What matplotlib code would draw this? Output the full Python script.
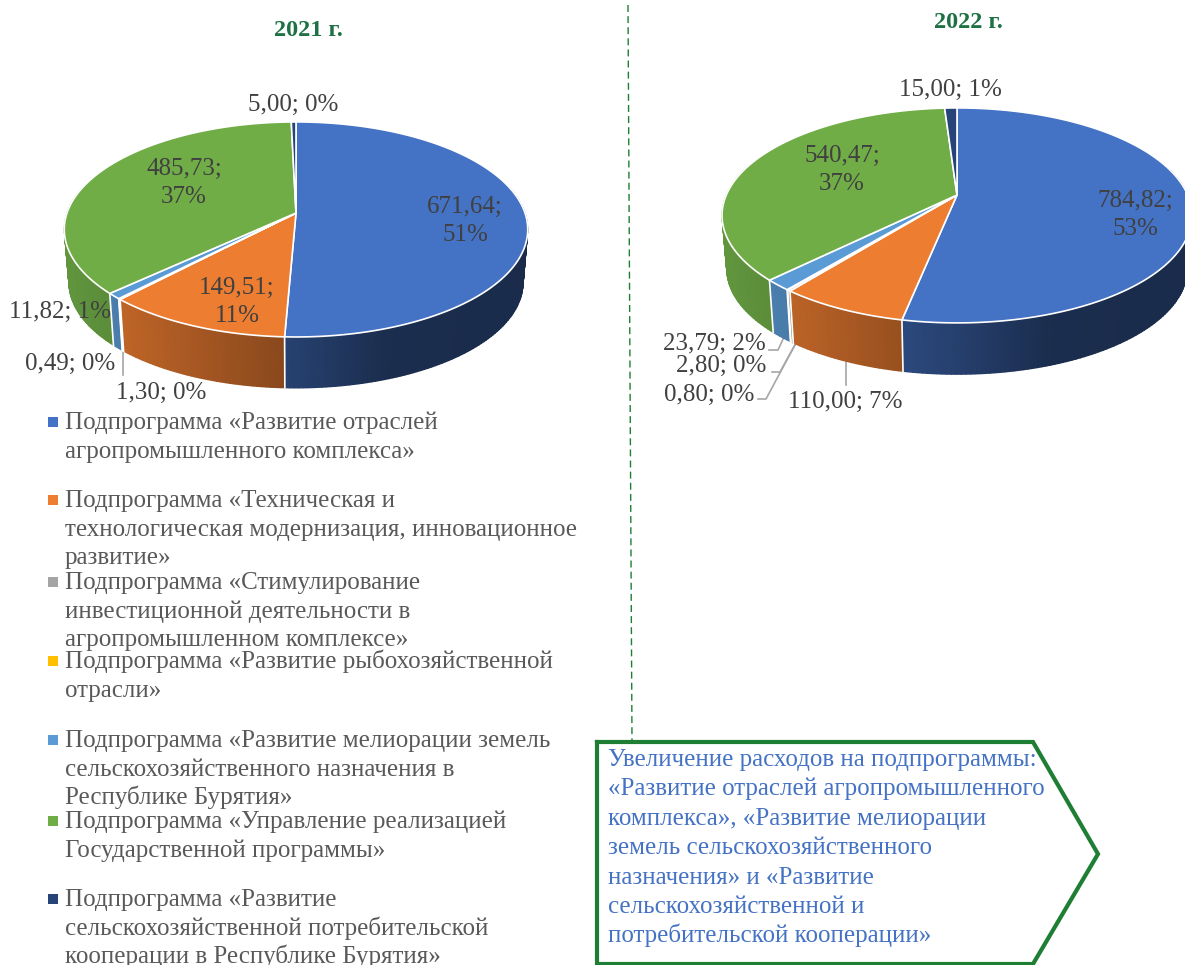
import numpy as np
import matplotlib.pyplot as plt
from matplotlib.colors import to_rgb

plt.rcParams['font.family'] = ['Liberation Serif', 'DejaVu Serif']

colors = ['#4472C4', '#ED7D31', '#A5A5A5', '#FFC000', '#5B9BD5', '#70AD47', '#264478']

values_2021 = [671.64, 149.51, 1.30, 0.49, 11.82, 485.73, 5.00]
values_2022 = [784.82, 110.00, 2.80, 0.80, 23.79, 540.47, 15.00]

labels_2021 = ['671,64;\n51%', '149,51;\n11%', '1,30; 0%', '0,49; 0%', '11,82; 1%', '485,73;\n37%', '5,00; 0%']
labels_2022 = ['784,82;\n53%', '110,00; 7%', '2,80; 0%', '0,80; 0%', '23,79; 2%', '540,47;\n37%', '15,00; 1%']

label_pos_2021 = [(465, 221), (237, 302), (161, 393), (70, 364), (60, 312), (184, 183), (293, 105)]
label_pos_2022 = [(1135, 215), (845, 402), (721, 366), (709, 395), (714, 344), (842, 170), (950, 90)]

legend_entries = [
    ['Подпрограмма «Развитие отраслей', 'агропромышленного комплекса»'],
    ['Подпрограмма «Техническая и', 'технологическая модернизация, инновационное', 'развитие»'],
    ['Подпрограмма «Стимулирование', 'инвестиционной деятельности в', 'агропромышленном комплексе»'],
    ['Подпрограмма «Развитие рыбохозяйственной', 'отрасли»'],
    ['Подпрограмма «Развитие мелиорации земель', 'сельскохозяйственного назначения в', 'Республике Бурятия»'],
    ['Подпрограмма «Управление реализацией', 'Государственной программы»'],
    ['Подпрограмма «Развитие', 'сельскохозяйственной потребительской', 'кооперации в Республике Бурятия»'],
]
legend_y = [429, 507, 589, 668, 747, 828, 906]

box_lines = [
    'Увеличение расходов на подпрограммы:',
    '«Развитие отраслей агропромышленного',
    'комплекса», «Развитие мелиорации',
    'земель сельскохозяйственного',
    'назначения» и «Развитие',
    'сельскохозяйственной и',
    'потребительской кооперации»',
]


def wall_shade(x):
    return np.interp(x, [-1, -0.75, -0.05, 0.4, 1], [0.86, 0.8, 0.58, 0.4, 0.38])


def project(theta, cx, cy, rx, ry, k, scale=1.0, drop=0.0):
    # theta clockwise from the top of the pie, perspective squeezes the far side
    xx = np.sin(theta)
    yy = np.cos(theta)
    ss = 1 / (1 + k * yy)
    return cx + rx * xx * ss * scale, cy - ry * yy * ss * scale + drop


def draw_pie(ax, values, cx, cy, rx, ry, k, drop):
    edges = np.concatenate([[0], np.cumsum(values)]) / np.sum(values) * 2 * np.pi
    sc = 0.98

    # side wall first, gouraud keeps the shading free of seams
    for ii, color in enumerate(colors):
        start, end = max(edges[ii], np.radians(75)), min(edges[ii + 1], np.radians(285))
        if end <= start:
            continue
        thetas = np.linspace(start, end, max(2, int(np.degrees(end - start))) + 1)
        xt, yt = project(thetas, cx, cy, rx, ry, k)
        xb, yb = project(thetas, cx, cy, rx, ry, k, sc, drop)
        shade = wall_shade((xt - cx) / rx)[:, None] * np.array(to_rgb(color))
        ax.pcolormesh(np.array([xt, xb]), np.array([yt, yb]), np.array([shade, shade]),
                      shading='gouraud', zorder=2)

    for edge in edges[:-1]:
        if np.cos(edge) < 0:
            xt, yt = project(edge, cx, cy, rx, ry, k)
            xb, yb = project(edge, cx, cy, rx, ry, k, sc, drop)
            ax.plot([xt, xb], [yt, yb], color='white', lw=1.2, zorder=3)

    # top face
    for ii, color in enumerate(colors):
        thetas = np.linspace(edges[ii], edges[ii + 1], 200)
        xs, ys = project(thetas, cx, cy, rx, ry, k)
        ax.fill(np.r_[cx, xs], np.r_[cy, ys], facecolor=color, edgecolor='white', lw=1.2,
                joinstyle='round', zorder=4)


fig = plt.figure(figsize=(11.85, 9.65), dpi=100)
ax = fig.add_axes([0, 0, 1, 1])

draw_pie(ax, values_2021, 296, 213, 229, 105, 0.153, 53.5)
draw_pie(ax, values_2022, 957, 195, 230.7, 103.6, 0.19, 54)

# leader lines
leader = '#A6A6A6'
ax.plot([123, 123], [352, 375], color=leader, lw=1.2, zorder=1)
ax.plot([846, 846], [362, 385], color=leader, lw=1.2, zorder=1)
ax.plot([769, 778, 784], [350, 350, 337], color=leader, lw=1.2, zorder=1)
ax.plot([772, 780, 796], [372, 372, 343], color=leader, lw=1.2, zorder=1)
ax.plot([758, 766, 796], [399, 399, 343], color=leader, lw=1.2, zorder=1)

for labels, positions in [(labels_2021, label_pos_2021), (labels_2022, label_pos_2022)]:
    for label, (xx, yy) in zip(labels, positions):
        ax.text(xx, yy, label, ha='center', va='center', fontsize=18, color='#404040',
                linespacing=1.3, zorder=6)

ax.text(308, 31, '2021 г.', ha='center', va='center', fontsize=17.5, fontweight='bold', color='#1E7145')
ax.text(968, 23, '2022 г.', ha='center', va='center', fontsize=17.5, fontweight='bold', color='#1E7145')

ax.plot([628, 632], [5, 740], color='#1E7E34', lw=1, ls=(0, (5, 3)))

for color, entry, y0 in zip(colors, legend_entries, legend_y):
    ax.scatter([53], [y0 - 7], marker='s', s=50, color=color, linewidths=0)
    for ii, line in enumerate(entry):
        ax.text(65, y0 + ii * 28.6, line, ha='left', va='baseline', fontsize=18, color='#595959')

box_x = [597, 1033, 1098, 1033, 597, 597]
box_y = [742, 742, 854, 964, 964, 742]
ax.plot(box_x, box_y, color='#1E7E34', lw=3, solid_joinstyle='miter', zorder=5)
for ii, line in enumerate(box_lines):
    ax.text(608, 766 + ii * 29.4, line, ha='left', va='baseline', fontsize=18, color='#4472C4', zorder=6)

ax.set_xlim(0, 1185)
ax.set_ylim(965, 0)
ax.axis('off')

fig.savefig('out.png', dpi=100)
